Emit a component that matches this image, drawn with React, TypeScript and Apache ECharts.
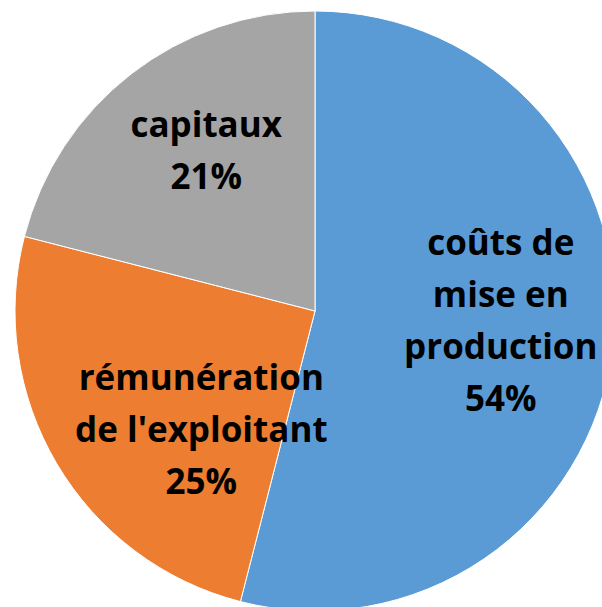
import React, { useEffect, useRef } from "react";
import * as echarts from "echarts";

const categories = ["coûts de\nmise en\nproduction", "rémunération\nde l'exploitant", "capitaux"];
const values = [54, 25, 21];
const colors = ["#5B9BD5", "#ED7D31", "#A5A5A5"];
const labelShift = [
  [34, -11],
  [18, 40],
  [-15, -41],
];

export default function App() {
  const ref = useRef<HTMLDivElement>(null);
  useEffect(() => {
    const chart = echarts.init(ref.current!, null, { renderer: "svg" });
    chart.setOption({
      animation: false,
      backgroundColor: "#ffffff",
      series: [
        {
          type: "pie",
          center: [315, 311],
          radius: 300,
          startAngle: 90,
          clockwise: true,
          data: categories.map((name, i) => ({
            name,
            value: values[i],
            itemStyle: { color: colors[i] },
          })),
          itemStyle: { borderColor: "#ffffff", borderWidth: 1 },
          label: {
            show: true,
            position: "inside",
            formatter: "{b}\n{d}%",
            color: "#000000",
            fontFamily: "Open Sans",
            fontWeight: "bold",
            fontSize: 35,
            lineHeight: 52,
            align: "center",
          },
          labelLine: { show: false },
          labelLayout: (p: any) => ({
            dx: labelShift[p.dataIndex][0],
            dy: labelShift[p.dataIndex][1],
          }),
          emphasis: { disabled: true },
        },
      ],
    });
    return () => chart.dispose();
  }, []);
  return (
    <div
      ref={ref}
      style={{ position: "fixed", left: 0, top: 0, width: 602, height: 607 }}
    />
  );
}
